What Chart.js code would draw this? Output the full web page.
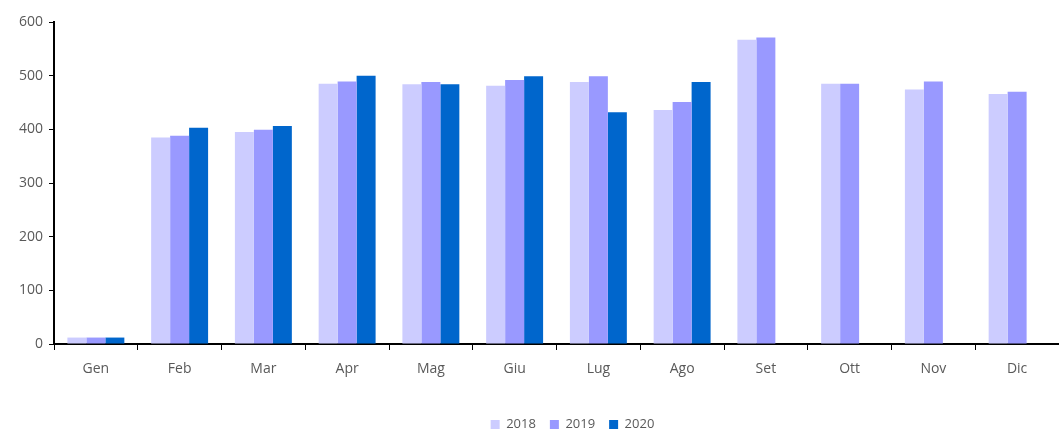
<!DOCTYPE html>
<html>
<head>
<meta charset="utf-8">
<script src="https://cdn.jsdelivr.net/npm/chart.js@4/dist/chart.umd.min.js"></script>
<style>
  html, body { margin: 0; padding: 0; background: #fff; }
</style>
</head>
<body>
<canvas id="chart" width="1059" height="430"></canvas>
<script>
var MONTHS = ["Gen", "Feb", "Mar", "Apr", "Mag", "Giu", "Lug", "Ago", "Set", "Ott", "Nov", "Dic"];
var YEARS = ["2018", "2019", "2020"];
var COLORS = ["#CCCCFF", "#9999FF", "#0066CC"];

var values2018 = [12, 385, 395, 485, 484, 481, 488, 436, 567, 485, 474, 466];
var values2019 = [12, 388, 399, 489, 488, 492, 499, 451, 571, 485, 489, 470];
var values2020 = [12, 403, 406, 500, 484, 499, 432, 488, null, null, null, null];

var TEXT_COLOR = "#595959";
var FONT = "'Open Sans', 'Noto Sans', sans-serif";

var allValues = [values2018, values2019, values2020];
var datasets = [];
for (var i = 0; i < YEARS.length; i++) {
    datasets.push({
        label: YEARS[i],
        data: allValues[i],
        backgroundColor: COLORS[i],
        borderWidth: 0,
        barPercentage: 1.0,
        categoryPercentage: 0.68
    });
}

// nudge the legend a bit to the right, like the original
var legendShift = {
    id: 'legendShift',
    afterLayout: function(chart) {
        if (chart.legend) {
            chart.legend.left += 16;
            chart.legend.right += 16;
        }
    }
};

var ctx = document.getElementById("chart").getContext("2d");
var chart = new Chart(ctx, {
    type: 'bar',
    data: {
        labels: MONTHS,
        datasets: datasets
    },
    plugins: [legendShift],
    options: {
        responsive: false,
        animation: false,
        layout: {
            // negative bottom pushes the legend closer to the edge
            padding: { top: 22, right: 0, left: 0, bottom: -11 }
        },
        plugins: {
            tooltip: { enabled: false },
            legend: {
                position: 'bottom',
                fullSize: false,
                labels: {
                    boxWidth: 9,
                    boxHeight: 9,
                    padding: 14,
                    color: TEXT_COLOR,
                    font: { family: FONT, size: 13 }
                }
            }
        },
        scales: {
            x: {
                grid: {
                    display: true,
                    drawOnChartArea: false,
                    drawTicks: true,
                    tickLength: 6,
                    color: "#000"
                },
                border: { color: "#000", width: 2 },
                ticks: {
                    color: TEXT_COLOR,
                    padding: 11,
                    font: { family: FONT, size: 14 }
                },
                afterFit: function(scale) { scale.height = 60; }
            },
            y: {
                min: 0,
                max: 600,
                grid: {
                    display: true,
                    drawOnChartArea: false,
                    drawTicks: true,
                    tickLength: 5,
                    color: "#000"
                },
                border: { color: "#000", width: 2 },
                ticks: {
                    stepSize: 100,
                    color: TEXT_COLOR,
                    padding: 6,
                    font: { family: FONT, size: 14 }
                },
                afterFit: function(scale) { scale.width = 54; }
            }
        }
    }
});
</script>
</body>
</html>
